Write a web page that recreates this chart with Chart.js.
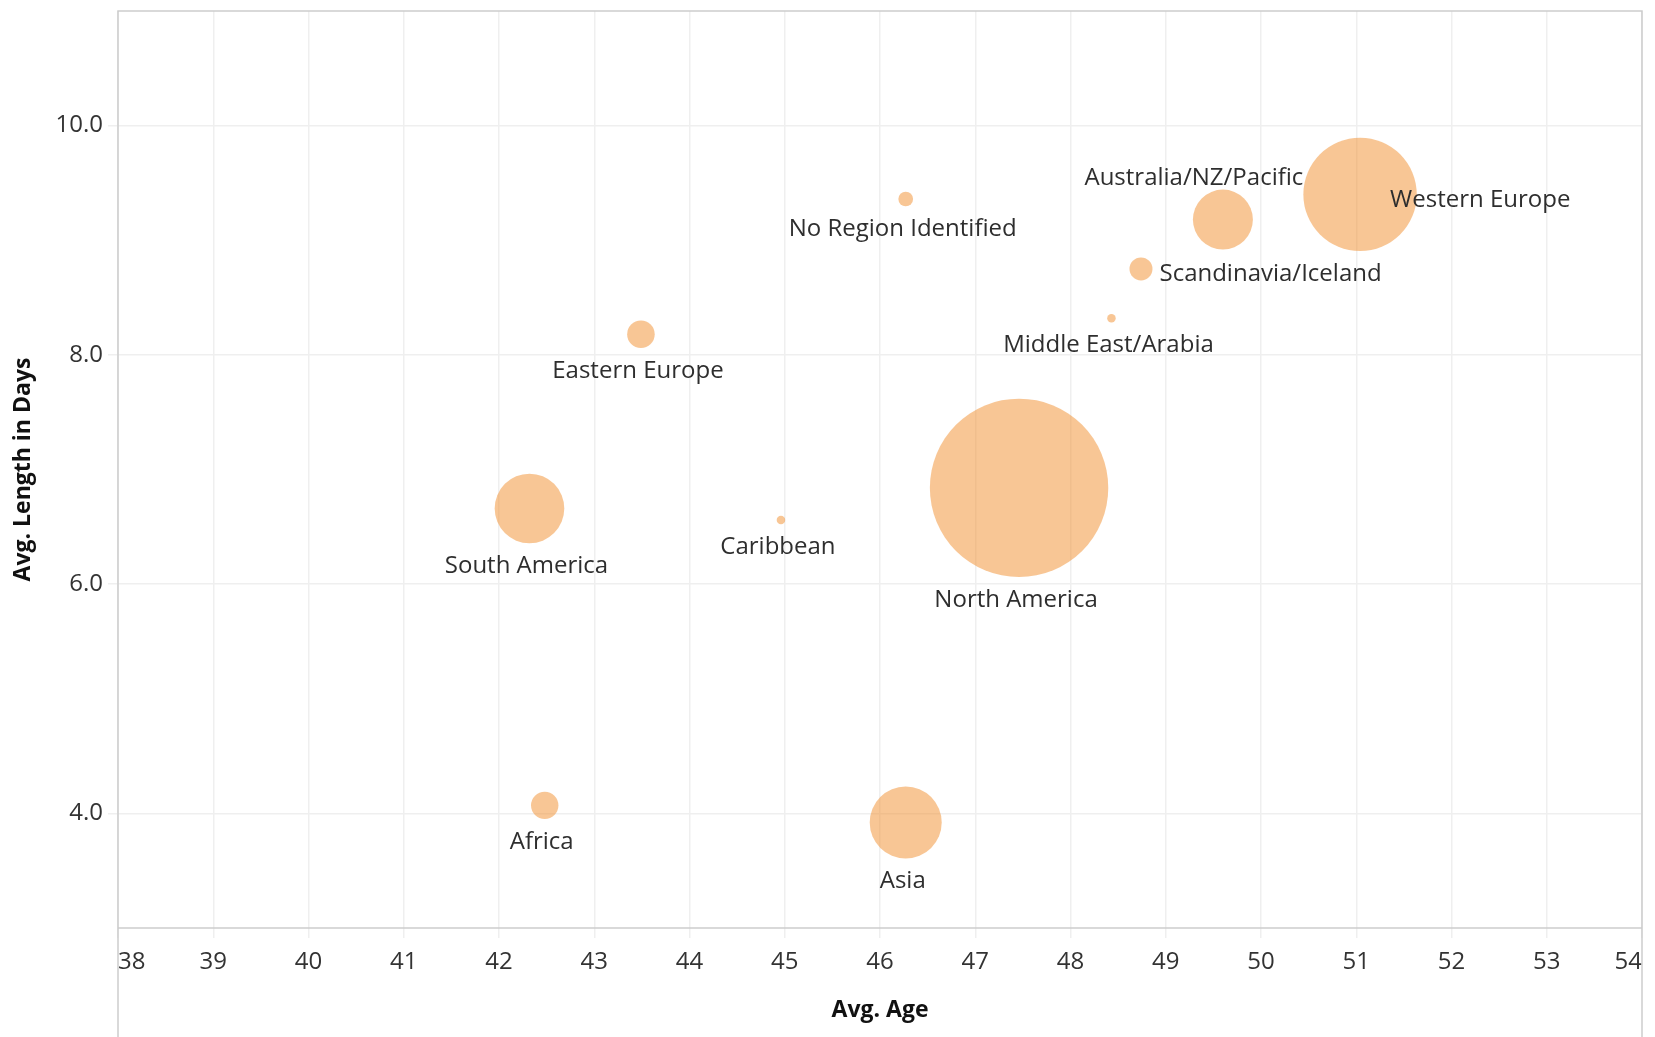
<!DOCTYPE html>
<html>
<head>
<meta charset="utf-8">
<script src="https://cdn.jsdelivr.net/npm/chart.js@4.4.1/dist/chart.umd.min.js"></script>
<style>
  html, body { margin: 0; padding: 0; background: #fff; }
  #wrap { width: 1655px; height: 1037px; }
</style>
</head>
<body>
<div id="wrap"><canvas id="myChart"></canvas></div>
<script>
// data
const regions = ["Western Europe", "Australia/NZ/Pacific", "Scandinavia/Iceland", "Middle East/Arabia",
  "No Region Identified", "Eastern Europe", "South America", "Caribbean", "North America", "Africa", "Asia"];
const avgAge = [51.04, 49.60, 48.74, 48.43, 46.27, 43.49, 42.32, 44.96, 47.46, 42.48, 46.27];
const avgLength = [9.40, 9.18, 8.75, 8.32, 9.36, 8.18, 6.66, 6.56, 6.84, 4.07, 3.92];
const guests = [1608, 450, 66, 9, 27, 95, 606, 9, 3980, 94, 648];
const xTicks = [38, 39, 40, 41, 42, 43, 44, 45, 46, 47, 48, 49, 50, 51, 52, 53, 54];
const yTicks = [4, 6, 8, 10];

const bubbleColor = "rgba(242, 142, 43, 0.5)";
const gridColor = "#efefef";
const frameColor = "#cdcdcd";
const sizeK = 1.414; // px of radius per sqrt(guest)

// where each label sits relative to its bubble (default: below)
const labelPlace = {
  "Western Europe": "over",
  "Australia/NZ/Pacific": "above",
  "Scandinavia/Iceland": "right"
};

const framePlugin = {
  id: "frame",
  beforeDatasetsDraw(chart) {
    const { ctx, chartArea: a, height } = chart;
    ctx.save();
    ctx.strokeStyle = frameColor;
    ctx.lineWidth = 1.5;
    ctx.beginPath();
    ctx.moveTo(a.left, height); ctx.lineTo(a.left, a.top);
    ctx.lineTo(a.right, a.top); ctx.lineTo(a.right, height);
    ctx.moveTo(a.left, a.bottom); ctx.lineTo(a.right, a.bottom);
    ctx.stroke();
    ctx.restore();
  }
};

const labelPlugin = {
  id: "bubbleLabels",
  afterDatasetsDraw(chart) {
    const ctx = chart.ctx;
    const meta = chart.getDatasetMeta(0);
    ctx.save();
    ctx.font = '24px "Open Sans"';
    ctx.fillStyle = "#2e2e2e";
    ctx.textBaseline = "middle";
    meta.data.forEach((pt, i) => {
      const r = Math.sqrt(guests[i]) * sizeK;
      const name = regions[i];
      const place = labelPlace[name] || "below";
      let x = pt.x, y = pt.y;
      if (place === "below") { ctx.textAlign = "center"; x -= 3; y += r + 23; }
      else if (place === "above") { ctx.textAlign = "center"; x -= 29; y -= r + 11; }
      else if (place === "right") { ctx.textAlign = "left"; x += r + 7; y += 5; }
      else { ctx.textAlign = "left"; x += 30; y += 6; }
      ctx.fillText(name, x, y);
    });
    ctx.restore();
  }
};

new Chart("myChart", {
  type: "bubble",
  data: {
    datasets: [{
      data: regions.map((n, i) => ({ x: avgAge[i], y: avgLength[i], r: Math.sqrt(guests[i]) * sizeK })),
      backgroundColor: bubbleColor,
      borderWidth: 0,
      hoverBorderWidth: 0,
      hoverRadius: 0
    }]
  },
  options: {
    responsive: true,
    maintainAspectRatio: false,
    animation: false,
    events: [],
    layout: { autoPadding: false, padding: { left: 0, top: 11, right: 13, bottom: 0 } },
    plugins: { legend: { display: false }, tooltip: { enabled: false } },
    scales: {
      x: {
        type: "linear",
        min: 38,
        max: 54,
        afterBuildTicks: s => { s.ticks = xTicks.map(v => ({ value: v })); },
        afterFit: s => { s.height = 109; s.paddingLeft = 0; s.paddingRight = 0; },
        grid: { color: gridColor, lineWidth: 1.5, tickLength: 10, tickColor: gridColor },
        border: { display: false },
        ticks: {
          align: "inner", padding: 10, color: "#333", autoSkip: false, maxRotation: 0,
          font: { family: "Open Sans", size: 24 }
        },
        title: {
          display: true, text: "Avg. Age", color: "#111",
          font: { family: "Open Sans", size: 23, weight: "bold" },
          padding: { top: 0, bottom: 13 }
        }
      },
      y: {
        type: "linear",
        min: 3,
        max: 11,
        afterBuildTicks: s => { s.ticks = yTicks.map(v => ({ value: v })); },
        afterFit: s => { s.width = 118; s.paddingTop = 0; s.paddingBottom = 0; },
        grid: { color: gridColor, lineWidth: 1.5, tickLength: 10, tickColor: gridColor },
        border: { display: false },
        ticks: {
          padding: 5, color: "#333",
          font: { family: "Open Sans", size: 24 },
          callback: v => Number(v).toFixed(1)
        },
        title: {
          display: true, text: "Avg. Length in Days", color: "#111",
          font: { family: "Open Sans", size: 23, weight: "bold" },
          padding: { top: 10, bottom: 0 }
        }
      }
    }
  },
  plugins: [framePlugin, labelPlugin]
});
</script>
</body>
</html>
